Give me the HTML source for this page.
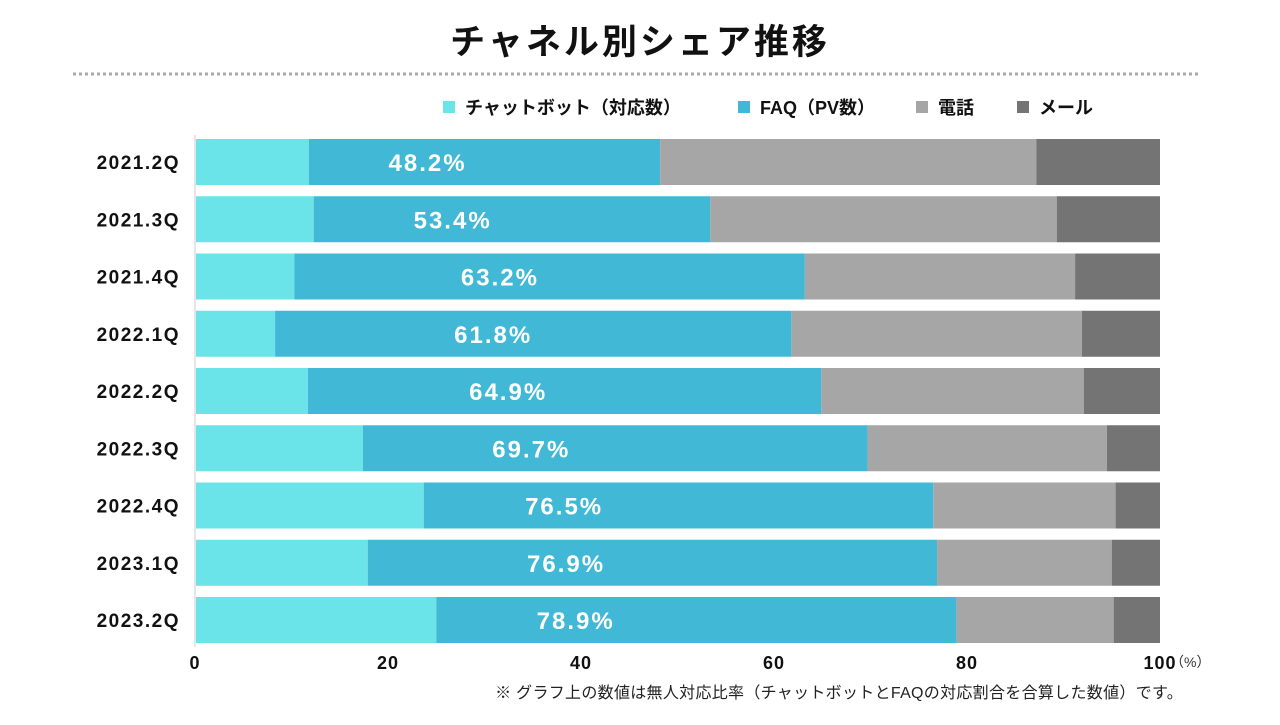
<!DOCTYPE html>
<html><head><meta charset="utf-8">
<style>
body{margin:0;background:#fff;font-family:"Liberation Sans","Noto Sans CJK JP",sans-serif;}
svg text{font-family:"Liberation Sans","Noto Sans CJK JP",sans-serif;}
</style></head>
<body>
<svg width="1280" height="720" id="chart">
<text x="640" y="54" text-anchor="middle" font-size="35" font-weight="bold" letter-spacing="3" fill="#111">チャネル別シェア推移</text>
<line x1="73" y1="74" x2="1198" y2="74" stroke="#aaa" stroke-width="3" stroke-dasharray="3,3"/>
<g id="legend"></g>
<g id="bars"></g>
<g id="axis"></g>
<text x="1170" y="667" font-size="14" fill="#333">（%）</text>
<text x="1183" y="698" text-anchor="end" font-size="16" letter-spacing="0.3" fill="#222">※ グラフ上の数値は無人対応比率（チャットボットとFAQの対応割合を合算した数値）です。</text>
</svg>
<script>
const categories=["2021.2Q","2021.3Q","2021.4Q","2022.1Q","2022.2Q","2022.3Q","2022.4Q","2023.1Q","2023.2Q"];
const chatbot=[11.8,12.3,10.3,8.3,11.7,17.4,23.7,17.9,25.0];
const faq=[36.4,41.1,52.9,53.5,53.2,52.3,52.8,59.0,53.9];
const phone=[39.0,35.9,28.0,30.1,27.2,24.8,18.9,18.1,16.3];
const mail=[12.8,10.7,8.8,8.1,7.9,5.5,4.6,5.0,4.8];
const labels=["48.2%","53.4%","63.2%","61.8%","64.9%","69.7%","76.5%","76.9%","78.9%"];
const ticks=[0,20,40,60,80,100];
const seriesNames=["チャットボット（対応数）","FAQ（PV数）","電話","メール"];
const colors=["#6ae4e8","#41b8d6","#a6a6a6","#747474"];
const NS="http://www.w3.org/2000/svg";
const x0=195,x1=1160;
const xs=v=>x0+(x1-x0)*v/100;
const top0=139,pitch=57.25,bh=46;
const ys=i=>top0+i*pitch;
function mk(t,a,p){const e=document.createElementNS(NS,t);for(const k in a)e.setAttribute(k,a[k]);p.appendChild(e);return e;}
const bars=document.getElementById('bars');
const series=[chatbot,faq,phone,mail];
categories.forEach((c,i)=>{
  let acc=0;
  series.forEach((s,j)=>{
    const xa=Math.max(xs(acc),x0+1);
    const r=mk('rect',{x:xa,y:ys(i),width:xs(acc+s[i])-xa,height:bh,fill:colors[j]},bars);
    
    
    acc+=s[i];
  });
  const tl=mk('text',{x:xs((chatbot[i]+faq[i])/2),y:ys(i)+bh/2+9,'text-anchor':'middle','font-size':24,'font-weight':'bold','letter-spacing':2,fill:'#fff'},bars);
  tl.textContent=labels[i];
  
  
  const cl=mk('text',{x:180,y:ys(i)+bh/2+7,'text-anchor':'end','font-size':19,'font-weight':'bold','letter-spacing':1.5,fill:'#111'},bars);
  cl.textContent=c;
  
  
});
const ax=document.getElementById('axis');
mk('line',{x1:x0,y1:ys(0)-4,x2:x0,y2:ys(8)+bh+4,stroke:'#ccc'},ax);
ticks.forEach(t=>{
  const e=mk('text',{x:xs(t),y:669,'text-anchor':'middle','font-size':18,'font-weight':'bold','letter-spacing':1,fill:'#111'},ax);
  e.textContent=t;
  
  
});
const lg=document.getElementById('legend');
const lx=[443,738,916,1017];
seriesNames.forEach((n,j)=>{
  const r=mk('rect',{x:lx[j],y:101,width:12,height:12,fill:colors[j]},lg);
  
  
  const t=mk('text',{x:lx[j]+22,y:114,'font-size':18,'font-weight':'bold',fill:'#111'},lg);
  t.textContent=n;
  
  
});
</script>
</body></html>
